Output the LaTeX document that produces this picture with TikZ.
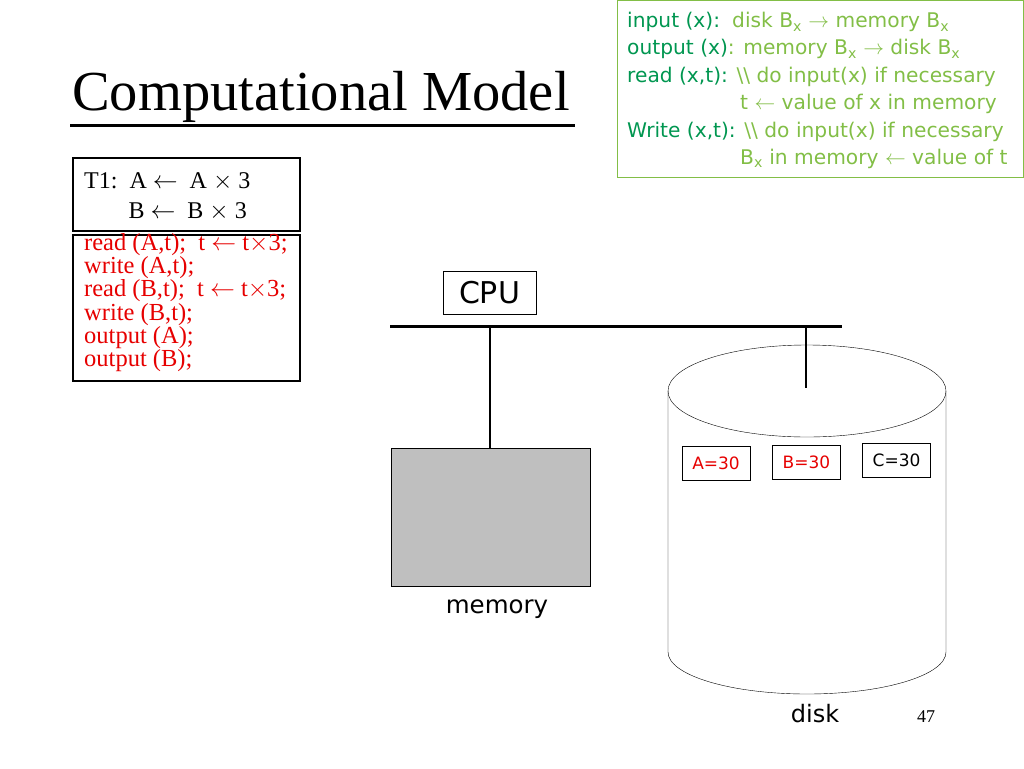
\documentclass[tikz,border=0pt]{standalone}
\usepackage{fontspec}
\setmainfont{Liberation Serif}
\newfontfamily\sansf{DejaVu Sans}
\usetikzlibrary{positioning}
\definecolor{dkgreen}{RGB}{0,150,80}
\definecolor{ltgreen}{RGB}{130,190,70}
\definecolor{memgray}{RGB}{191,191,191}
\definecolor{slred}{RGB}{230,0,0}
\tikzset{
  valbox/.style={draw, thin, minimum width=68pt, minimum height=34pt, inner sep=0pt,
    font=\sansf\fontsize{17}{17}\selectfont},
  codeline/.style={anchor=base west, inner sep=0pt, font=\sansf\fontsize{20.2}{20}\selectfont},
}
\begin{document}
\begin{tikzpicture}[x=1pt,y=-1pt]
  \useasboundingbox (0,0) rectangle (1024,768);

  % title
  \node[anchor=base west, inner sep=0pt, font=\fontsize{56.5}{56}\selectfont] (title) at (72,110) {Computational Model};
  \draw[line width=3pt] (70,125) -- (575,125);

  % legend box
  \draw[ltgreen, thin] (617,0) rectangle (1023,177);
  \node[codeline] (l1) at (627,28) {\textcolor{dkgreen}{input (x):}\hspace{0.6em}\textcolor{ltgreen}{disk B\textsubscript{x} $\rightarrow$ memory B\textsubscript{x}}};
  \node[codeline] (l2) at (627,55) {\textcolor{dkgreen}{output (x)}\textcolor{ltgreen}{: memory B\textsubscript{x} $\rightarrow$ disk B\textsubscript{x}}};
  \node[codeline] (l3) at (627,82) {\textcolor{dkgreen}{read (x,t):} \textcolor{ltgreen}{\textbackslash\textbackslash{} do input(x) if necessary}};
  \node[codeline, ltgreen] (l4) at (740,109) {t $\leftarrow$ value of x in memory};
  \node[codeline] (l5) at (627,137) {\textcolor{dkgreen}{Write (x,t):} \textcolor{ltgreen}{\textbackslash\textbackslash{} do input(x) if necessary}};
  \node[codeline, ltgreen] (l6) at (740,164) {B\textsubscript{x} in memory $\leftarrow$ value of t};

  % transaction boxes
  \draw[line width=1.5pt] (73,158) rectangle (300,231);
  \node[anchor=base west, align=left, inner sep=0pt, font=\fontsize{24}{30}\selectfont] (trans) at (84,218)
    {T1:\ \ A $\leftarrow$\ \ A $\times$ 3\\ \hspace{1.85em}B $\leftarrow$\ \ B $\times$ 3};
  \draw[line width=1.5pt] (73,235) rectangle (300,381);
  \node[anchor=base west, align=left, inner sep=0pt, text=slred, font=\fontsize{24.5}{21.7}\selectfont] (steps) at (84,366.5)
    {read (A,t);\ \ t $\leftarrow$ t$\times$3;\\ write (A,t);\\ read (B,t);\ \ t $\leftarrow$ t$\times$3;\\
     write (B,t);\\ output (A);\\ output (B);};

  % cpu and bus
  \node[draw, thin, minimum width=93pt, minimum height=43pt, inner sep=0pt, font=\sansf\fontsize{30}{30}\selectfont] (cpu) at (489.5,292.5) {CPU};
  \coordinate (busl) at (390,326);
  \coordinate (busr) at (842,326);
  \draw[line width=3pt] (busl) -- (busr);

  % memory
  \node[draw, thin, fill=memgray, minimum width=199pt, minimum height=138pt, inner sep=0pt] (mem) at (490.5,517) {};
  \node[font=\sansf\fontsize{24.5}{24}\selectfont] (memlbl) at (497,609) {memory};
  \coordinate (memtap) at (490,326);
  \draw[line width=2.5pt] (memtap) -- (mem.north -| memtap);

  % disk
  \draw[thin] (668,391) -- (668,652) arc[start angle=180, end angle=0, x radius=139, y radius=42] -- (946,391);
  \draw[thin] (807,391) ellipse[x radius=139, y radius=46];
  \coordinate (disktap) at (806,326);
  \coordinate (diskend) at (806,388);
  \draw[line width=2.5pt] (disktap) -- (diskend);
  \node[valbox, text=slred] (va) at (716,463) {A=30};
  \node[valbox, text=slred] (vb) at (806.5,462) {B=30};
  \node[valbox] (vc) at (896.5,460) {C=30};
  \node[font=\sansf\fontsize{24}{24}\selectfont] (disklbl) at (815,714) {disk};
  \node[font=\fontsize{18}{18}\selectfont] (pnum) at (926,717) {47};
\end{tikzpicture}
\end{document}
